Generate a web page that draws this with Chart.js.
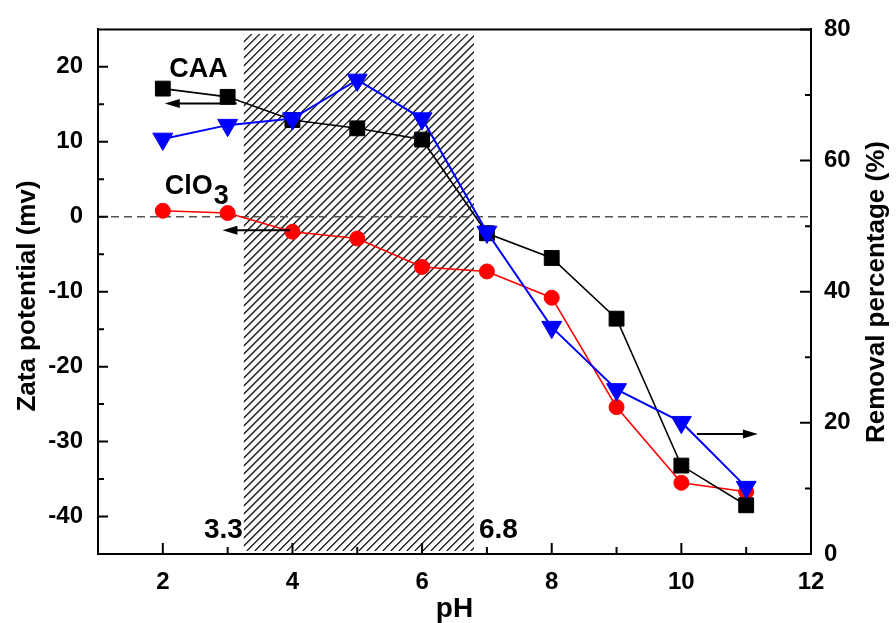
<!DOCTYPE html>
<html><head><meta charset="utf-8">
<script src="https://cdn.jsdelivr.net/npm/chart.js@4"></script>
<style>html,body{margin:0;padding:0;background:#fff;overflow:hidden}#wrap{width:896px;height:623px;position:relative}</style>
</head><body><div id="wrap"><canvas id="c" width="896" height="623"></canvas></div>
<script>
// ---- data ----
const pH = [2, 3, 4, 5, 6, 7, 8, 9, 10, 11];
const zetaCAA = [17.1, 16.0, 12.9, 11.8, 10.3, -2.2, -5.5, -13.6, -33.2, -38.5];
const zetaClO3 = [0.8, 0.5, -2.0, -2.9, -6.7, -7.3, -10.8, -25.4, -35.5, -36.7];
const removal = [63.3, 65.4, 66.4, 72.3, 66.4, 49.1, 34.6, 25.1, 20.1, 10.2];
const xTicks = [2, 4, 6, 8, 10, 12];
const xMinorTicks = [3, 5, 7, 9, 11];
const leftTicks = [-40, -30, -20, -10, 0, 10, 20];
const leftMinorTicks = [-35, -25, -15, -5, 5, 15];
const rightTicks = [0, 20, 40, 60, 80];
const rightMinorTicks = [10, 30, 50, 70];
const shadedPH = [3.25, 6.8];
const shadedZeta = [-44.6, 24.4];
const boundaryLabels = ['3.3', '6.8'];

const FONT = '"Liberation Sans", Arial, sans-serif';

const arrows = [
  {from: 3.14, to: 2.03, at: 15.1},
  {from: 3.96, to: 2.92, at: -1.8},
  {from: 10.24, to: 11.18, at: -29.0}
];

function pts(ys){ return pH.map((x,i)=>({x:x, y:ys[i]})); }

const deco = {
  id: 'deco',
  beforeDatasetsDraw(chart){
    const {ctx, chartArea:a, scales:{x, y}} = chart;
    const x0 = x.getPixelForValue(shadedPH[0]), x1 = x.getPixelForValue(shadedPH[1]);
    const yt = y.getPixelForValue(shadedZeta[1]), yb = y.getPixelForValue(shadedZeta[0]);
    ctx.save();
    ctx.beginPath(); ctx.rect(x0, yt, x1-x0, yb-yt); ctx.clip();
    ctx.strokeStyle = '#1a1a1a'; ctx.lineWidth = 1.3;
    const h = yb - yt;
    ctx.beginPath();
    for (let k = x0 - h; k < x1 + 8; k += 8) { ctx.moveTo(k, yb); ctx.lineTo(k + h, yt); }
    ctx.stroke();
    ctx.restore();
    // zero dashed line
    const y0 = y.getPixelForValue(0);
    ctx.save();
    ctx.setLineDash([8, 5]); ctx.strokeStyle = '#555'; ctx.lineWidth = 1.5;
    ctx.beginPath(); ctx.moveTo(a.left, y0); ctx.lineTo(a.right, y0); ctx.stroke();
    ctx.restore();
  },
  afterDraw(chart){
    const {ctx, chartArea:a, scales:{x, y, y1}} = chart;
    ctx.save();
    ctx.strokeStyle = '#000'; ctx.lineWidth = 2;
    // top border
    ctx.beginPath(); ctx.moveTo(a.left-1, a.top); ctx.lineTo(a.right+1, a.top); ctx.stroke();
    // inward ticks
    ctx.beginPath();
    xTicks.forEach(v=>{const p=x.getPixelForValue(v); ctx.moveTo(p,a.bottom); ctx.lineTo(p,a.bottom-11);});
    xMinorTicks.forEach(v=>{const p=x.getPixelForValue(v); ctx.moveTo(p,a.bottom); ctx.lineTo(p,a.bottom-7);});
    leftTicks.forEach(v=>{const p=y.getPixelForValue(v); ctx.moveTo(a.left,p); ctx.lineTo(a.left+10,p);});
    leftMinorTicks.forEach(v=>{const p=y.getPixelForValue(v); ctx.moveTo(a.left,p); ctx.lineTo(a.left+6,p);});
    rightTicks.forEach(v=>{const p=y1.getPixelForValue(v); ctx.moveTo(a.right,p); ctx.lineTo(a.right-11,p);});
    rightMinorTicks.forEach(v=>{const p=y1.getPixelForValue(v); ctx.moveTo(a.right,p); ctx.lineTo(a.right-6,p);});
    ctx.stroke();

    // arrows
    ctx.fillStyle = '#000'; ctx.lineWidth = 2;
    arrows.forEach(ar=>{
      const xa = x.getPixelForValue(ar.from), xb = x.getPixelForValue(ar.to), yy = y.getPixelForValue(ar.at);
      const dir = Math.sign(xb - xa);
      ctx.beginPath(); ctx.moveTo(xa, yy); ctx.lineTo(xb - dir*12, yy); ctx.stroke();
      ctx.beginPath(); ctx.moveTo(xb, yy); ctx.lineTo(xb - dir*15, yy-4.5); ctx.lineTo(xb - dir*15, yy+4.5); ctx.closePath(); ctx.fill();
    });

    // text annotations
    ctx.fillStyle = '#000';
    ctx.textBaseline = 'alphabetic';
    ctx.font = 'bold 27px ' + FONT;
    ctx.textAlign = 'left';
    ctx.fillText('CAA', x.getPixelForValue(2.1), y.getPixelForValue(18.7));
    const cx = x.getPixelForValue(2.03), cy = y.getPixelForValue(3.0);
    ctx.fillText('ClO', cx, cy);
    const w = ctx.measureText('ClO').width;
    ctx.fillText('3', cx + w + 1, cy + 10);

    ctx.font = 'bold 28px ' + FONT;
    ctx.textAlign = 'right';
    ctx.fillText(boundaryLabels[0], x.getPixelForValue(shadedPH[0]) - 1, y.getPixelForValue(-42.8));
    ctx.textAlign = 'left';
    ctx.fillText(boundaryLabels[1], x.getPixelForValue(shadedPH[1]) + 5, y.getPixelForValue(-42.9));

    // axis titles
    ctx.font = 'bold 28px ' + FONT;
    ctx.textAlign = 'center';
    ctx.fillText('pH', (a.left + a.right)/2, 617);
    ctx.font = 'bold 26px ' + FONT;
    ctx.textBaseline = 'middle';
    ctx.save(); ctx.translate(28, 296); ctx.rotate(-Math.PI/2); ctx.fillText('Zata potential (mv)', 0, 0); ctx.restore();
    ctx.save(); ctx.translate(877, 292); ctx.rotate(-Math.PI/2); ctx.fillText('Removal percentage (%)', 0, 0); ctx.restore();
    ctx.restore();
  }
};

const tickFont = {family: FONT, size: 24, weight: 'bold'};

new Chart(document.getElementById('c'), {
  type: 'line',
  data: {
    datasets: [
      {label: 'Removal', data: pts(removal), yAxisID: 'y1', borderColor: '#0000ff', backgroundColor: '#0000ff',
       pointStyle: 'triangle', rotation: 180, pointRadius: 11.5, pointBorderWidth: 1, borderWidth: 2},
      {label: 'CAA', data: pts(zetaCAA), yAxisID: 'y', borderColor: '#000', backgroundColor: '#000',
       pointStyle: 'rect', pointRadius: 10.5, pointBorderWidth: 1, borderWidth: 1.6},
      {label: 'ClO3', data: pts(zetaClO3), yAxisID: 'y', borderColor: '#ff0000', backgroundColor: '#ff0000',
       pointStyle: 'circle', pointRadius: 7.5, pointBorderWidth: 1, borderWidth: 1.6}
    ]
  },
  options: {
    responsive: false, animation: false, devicePixelRatio: 1,
    layout: {padding: {top: 25, left: 0, right: 0, bottom: 0}},
    plugins: {legend: {display: false}, tooltip: {enabled: false}},
    scales: {
      x: {type: 'linear', position: 'bottom', min: 1, max: 12,
          afterBuildTicks: s => { s.ticks = xTicks.map(v=>({value:v})); },
          afterFit: s => { s.height = 69; },
          grid: {display: false, drawTicks: false},
          border: {display: true, color: '#000', width: 2},
          ticks: {font: tickFont, color: '#000', padding: 14, maxRotation: 0, autoSkip: false}},
      y: {type: 'linear', position: 'left', min: -45, max: 25,
          afterBuildTicks: s => { s.ticks = leftTicks.map(v=>({value:v})); },
          afterFit: s => { s.width = 98; },
          grid: {display: false, drawTicks: false},
          border: {display: true, color: '#000', width: 2},
          ticks: {font: tickFont, color: '#000', padding: 15}},
      y1: {type: 'linear', position: 'right', min: 0, max: 80,
          afterBuildTicks: s => { s.ticks = rightTicks.map(v=>({value:v})); },
          afterFit: s => { s.width = 85; },
          grid: {display: false, drawTicks: false},
          border: {display: true, color: '#000', width: 2},
          ticks: {font: tickFont, color: '#000', padding: 13}}
    }
  },
  plugins: [deco]
});
</script>
</body></html>
